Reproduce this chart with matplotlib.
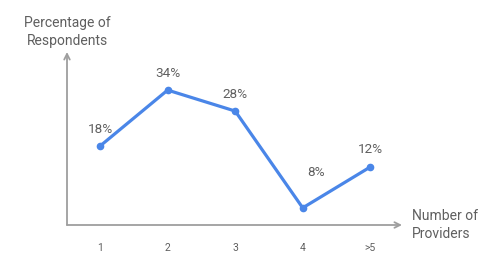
import matplotlib.pyplot as plt

plt.rcParams['font.family'] = ['Roboto', 'DejaVu Sans']

# Data
categories = ['1', '2', '3', '4', '>5']
# heights as drawn in the picture (the 4 point sits near the axis)
values = [18, 34, 28, 0.3, 12]
labels = ['18%', '34%', '28%', '8%', '12%']

line_color = '#4a86e8'
text_color = '#5f5f5f'
axis_color = '#9e9e9e'

fig = plt.figure(figsize=(5.04, 2.6), dpi=100)
W, H = 504, 260
ax = fig.add_axes([67 / W, (H - 225) / H, (402 - 67) / W, (225 - 52) / H])

x = list(range(1, len(categories) + 1))
ax.plot(x, values, color=line_color, linewidth=2.3, marker='o', markersize=4.5,
        solid_joinstyle='round', clip_on=False, zorder=3)

ax.set_xlim(0.51, 5.47)
ax.set_ylim(-4.6, 44.9)

# point labels
for i, (xi, yi, lab) in enumerate(zip(x, values, labels)):
    if lab == '8%':
        ax.annotate(lab, (xi, yi), xytext=(13, 35), textcoords='offset pixels',
                    ha='center', va='center', fontsize=9.7, color=text_color)
    else:
        ax.annotate(lab, (xi, yi), xytext=(0, 17), textcoords='offset pixels',
                    ha='center', va='center', fontsize=9.7, color=text_color)

# axes with arrows
for s in ax.spines.values():
    s.set_visible(False)
ax.set_xticks([])
ax.set_yticks([])
arrow = dict(arrowstyle='->', color=axis_color, lw=1.3, shrinkA=0, shrinkB=0,
             mutation_scale=10)
ax.annotate('', xy=(1, 0), xytext=(0, 0), xycoords='axes fraction', arrowprops=arrow)
ax.annotate('', xy=(0, 1), xytext=(0, 0), xycoords='axes fraction', arrowprops=arrow)

# category labels
for xi, c in zip(x, categories):
    ax.annotate(c, (xi, 0), xycoords=('data', 'axes fraction'), xytext=(0, -23),
                textcoords='offset pixels', ha='center', va='center',
                fontsize=7.5, color=text_color)

# axis titles
fig.text(67 / W, 1 - 32 / H, 'Percentage of\nRespondents', ha='center', va='center',
         fontsize=10, color=text_color, linespacing=1.3)
fig.text(412 / W, 1 - 225 / H, 'Number of\nProviders', ha='left', va='center',
         fontsize=10, color=text_color, linespacing=1.3)

plt.savefig('out.png', dpi=100)
